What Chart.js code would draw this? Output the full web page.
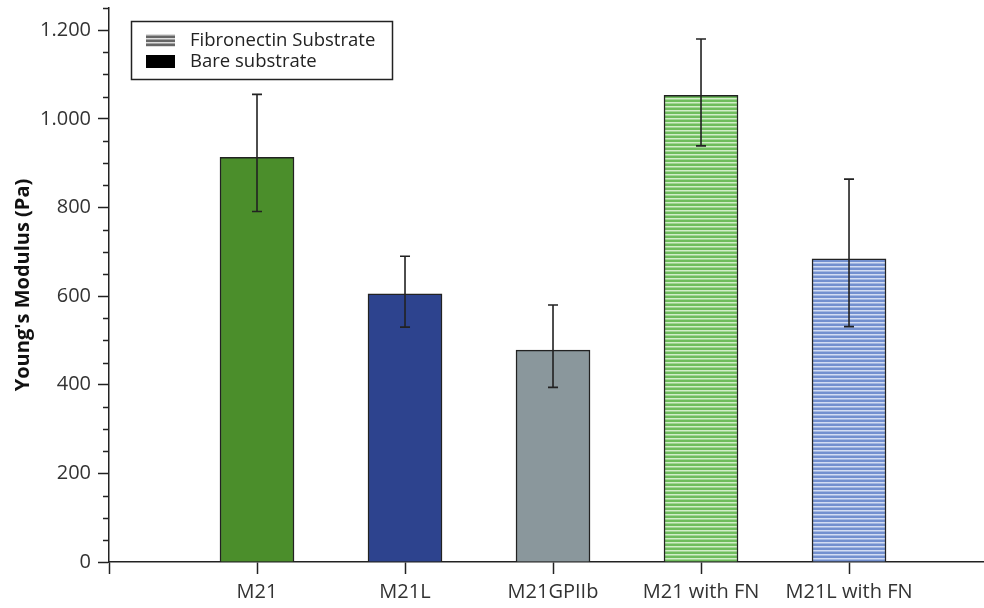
<!DOCTYPE html>
<html>
<head>
<meta charset="utf-8">
<script src="https://cdn.jsdelivr.net/npm/chart.js@4"></script>
<style>
  html, body { margin: 0; padding: 0; background: #fff; }
  #wrap { width: 984px; height: 608px; }
</style>
</head>
<body>
<div id="wrap"><canvas id="chart" width="984" height="608"></canvas></div>
<script>
// Dados
const categories = ['M21', 'M21L', 'M21GPIIb', 'M21 with FN', 'M21L with FN'];
const modulus = [913, 605, 478, 1053, 684];
const errUpper = [1055, 690, 580, 1180, 864];
const errLower = [791, 530, 394, 939, 531];
const yTicksMajor = [0, 200, 400, 600, 800, 1000, 1200];
const legendLabels = ['Fibronectin Substrate', 'Bare substrate'];

const FONT = '"Open Sans", "Noto Sans", sans-serif';
const INK = '#222';

// Cria padrão listrado horizontal
function stripes(base, light) {
    const c = document.createElement('canvas');
    c.width = 4; c.height = 4;
    const g = c.getContext('2d');
    g.fillStyle = base; g.fillRect(0, 0, 4, 4);
    g.fillStyle = light; g.fillRect(0, 2, 4, 1.5);
    return g.createPattern(c, 'repeat');
}

const ctx = document.getElementById('chart').getContext('2d');
const fills = ['#4b8e2b', '#2d438e', '#8a979c',
    stripes('#6fbd5d', '#d2eec9'), stripes('#7390cf', '#d3ddf3')];
const legendFills = [stripes('#666', '#ddd'), '#000'];

// Barras de erro
const errorBars = {
    id: 'errorBars',
    afterDatasetsDraw(chart) {
        const y = chart.scales.y;
        const meta = chart.getDatasetMeta(0);
        const g = chart.ctx;
        g.save();
        g.strokeStyle = INK;
        g.lineWidth = 1.6;
        meta.data.forEach((bar, i) => {
            const top = y.getPixelForValue(errUpper[i]);
            const bot = y.getPixelForValue(errLower[i]);
            g.beginPath();
            g.moveTo(bar.x, top); g.lineTo(bar.x, bot);
            g.moveTo(bar.x - 5, top); g.lineTo(bar.x + 5, top);
            g.moveTo(bar.x - 5, bot); g.lineTo(bar.x + 5, bot);
            g.stroke();
        });
        g.restore();
    }
};

// Marcas menores no eixo y
const minorTicks = {
    id: 'minorTicks',
    afterDraw(chart) {
        const y = chart.scales.y;
        const x0 = chart.chartArea.left;
        const g = chart.ctx;
        g.save();
        g.strokeStyle = INK;
        g.lineWidth = 1.5;
        for (let v = 50; v <= y.max; v += 50) {
            if (v % 200 === 0) continue;
            const py = Math.round(y.getPixelForValue(v)) + 0.5;
            g.beginPath();
            g.moveTo(x0 - 6, py); g.lineTo(x0, py);
            g.stroke();
        }
        g.restore();
    }
};

// Legenda dentro do gráfico
const boxLegend = {
    id: 'boxLegend',
    afterDraw(chart) {
        const g = chart.ctx;
        g.save();
        g.strokeStyle = INK;
        g.lineWidth = 1.5;
        g.strokeRect(131.5, 21.5, 261, 58);
        g.font = '18.5px ' + FONT;
        g.textBaseline = 'middle';
        legendLabels.forEach((label, i) => {
            const sy = 34 + i * 21;
            g.fillStyle = legendFills[i];
            g.fillRect(146, sy, 29, 13);
            g.fillStyle = '#222';
            g.fillText(label, 190, sy + 7);
        });
        g.restore();
    }
};

new Chart(ctx, {
    type: 'bar',
    data: {
        datasets: [{
            data: modulus.map((v, i) => ({ x: i + 1, y: v })),
            backgroundColor: fills,
            borderColor: INK,
            borderWidth: 1.5,
            barThickness: 74
        }]
    },
    plugins: [errorBars, minorTicks, boxLegend],
    options: {
        responsive: false,
        animation: false,
        layout: { padding: { top: 8, right: 0, left: 0, bottom: 0 } },
        plugins: { legend: { display: false }, tooltip: { enabled: false } },
        scales: {
            x: {
                type: 'linear',
                offset: false,
                min: 0,
                max: 5.912,
                afterBuildTicks: s => { s.ticks = s.ticks.filter(t => Number.isInteger(t.value)); },
                afterFit: s => { s.height = 46; s.paddingLeft = 0; s.paddingRight = 0; },
                border: { color: INK, width: 1.5 },
                grid: { display: true, offset: false, drawOnChartArea: false, drawTicks: true, tickLength: 12, color: INK, tickWidth: 1.5 },
                ticks: {
                    stepSize: 1,
                    autoSkip: false,
                    maxRotation: 0,
                    padding: 6,
                    color: '#333',
                    font: { family: FONT, size: 20 },
                    callback: v => categories[v - 1] || ''
                }
            },
            y: {
                min: 0,
                max: 1250,
                afterBuildTicks: s => { s.ticks = yTicksMajor.map(v => ({ value: v })); },
                afterFit: s => { s.width = 109; s.paddingTop = 0; s.paddingBottom = 0; },
                border: { color: INK, width: 1.5 },
                grid: { display: true, drawOnChartArea: false, drawTicks: true, tickLength: 11, color: INK, tickWidth: 1.5 },
                title: {
                    display: true,
                    text: "Young's Modulus (Pa)",
                    color: '#111',
                    font: { family: FONT, size: 20, weight: 'bold' },
                    padding: { top: 11, bottom: 0 }
                },
                ticks: {
                    padding: 7,
                    color: '#333',
                    font: { family: FONT, size: 20 },
                    callback: v => String(v).replace(/\B(?=(\d{3})+(?!\d))/g, '.')
                }
            }
        }
    }
});
</script>
</body>
</html>
